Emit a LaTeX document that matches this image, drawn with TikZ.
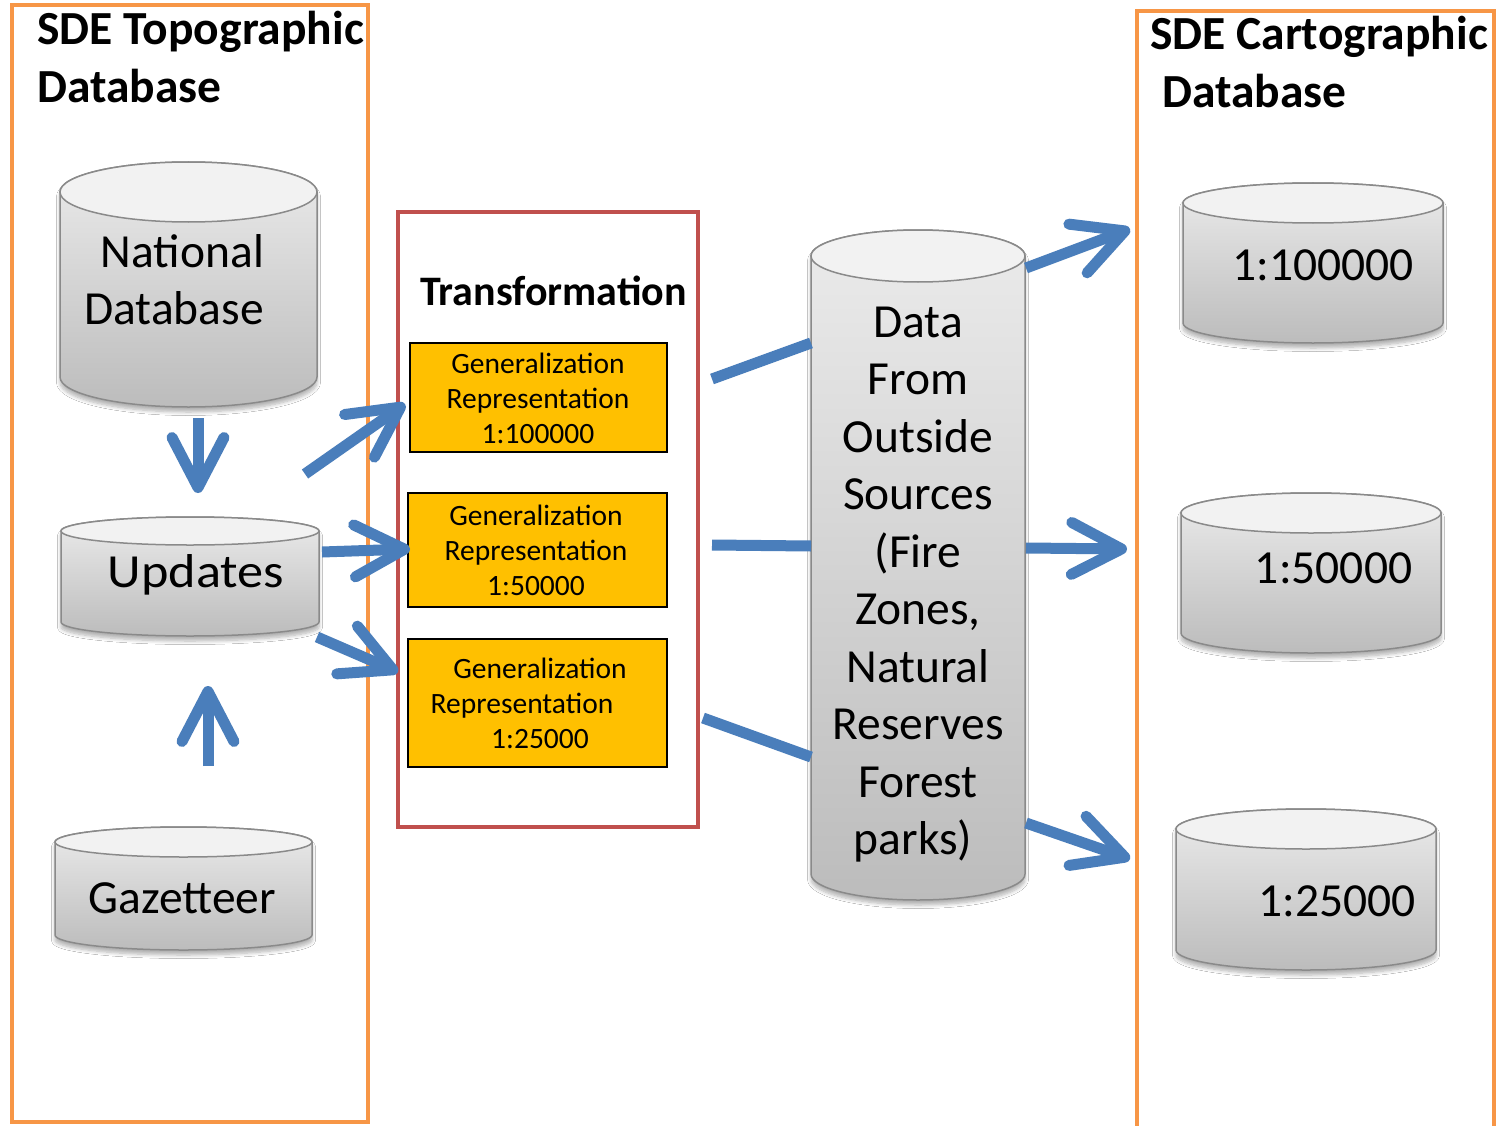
\documentclass[tikz,border=0pt]{standalone}
\usepackage{fontspec}
\usepackage{graphicx}
\setmainfont{Carlito}
\usetikzlibrary{arrows.meta,shadows.blur}
\definecolor{boxorange}{HTML}{F79646}
\definecolor{boxred}{HTML}{C0504D}
\definecolor{flowblue}{HTML}{4A7EBB}
\definecolor{genyellow}{HTML}{FFC000}
\definecolor{cylTop}{HTML}{F2F2F2}
\definecolor{cylA}{HTML}{EBEBEB}
\definecolor{cylB}{HTML}{BCBCBC}
\definecolor{cylLine}{HTML}{8A8A8A}

\newcommand\ml[1]{\begin{tabular}[t]{@{}c@{}}#1\end{tabular}}
\newcommand\mll[1]{\begin{tabular}[t]{@{}l@{}}#1\end{tabular}}

\newcommand\DBcyl[6]{%
 \pgfmathsetmacro\cylcx{(#2+#3)/2}%
 \pgfmathsetmacro\cylrx{(#3-#2)/2}%
 \pgfmathsetmacro\cylcy{(#4+#5)/2}%
 \shade[top color=cylA, bottom color=cylB, draw=cylLine, line width=1.5pt,
   blur shadow={shadow xshift=0pt, shadow yshift=-5pt, shadow opacity=30, shadow blur radius=3.5pt, shadow blur steps=7}]
   (#2,#4) -- (#2,#5) arc[start angle=180, end angle=0, x radius=\cylrx, y radius=#6]
   -- (#3,#4) arc[start angle=0, end angle=-180, x radius=\cylrx, y radius=#6] -- cycle;
 \filldraw[fill=cylTop, draw=cylLine, line width=1.5pt] (\cylcx,#4) ellipse[x radius=\cylrx, y radius=#6];
 \node[inner sep=0pt, minimum width={(#3-#2)*1pt}, minimum height={(#5-#4)*1pt}] (#1) at (\cylcx,\cylcy) {};
}

\tikzset{
  title/.style={font=\fontsize{47.5}{57.5}\selectfont\bfseries, inner sep=0pt},
  transtitle/.style={font=\fontsize{42}{50}\selectfont\bfseries, inner sep=0pt},
  cyltext/.style={font=\fontsize{47.5}{57.5}\selectfont, inner sep=0pt},
  gentext/.style={font=\fontsize{29.5}{35}\selectfont, inner sep=0pt},
  genbox/.style={draw=black, line width=1.5pt, fill=genyellow, inner sep=0pt},
  frameorange/.style={draw=boxorange, line width=4pt},
  framered/.style={draw=boxred, line width=4pt},
  flow/.style={draw=flowblue, line width=11pt, -{Straight Barb[length=50pt, width=52pt, round]}},
  link/.style={draw=flowblue, line width=11pt},
}

\begin{document}
\begin{tikzpicture}[x=1pt, y=-1pt]
\useasboundingbox (0,0) rectangle (1498,1126);
\fill[white] (0,0) rectangle (1498,1126);

% frames
\draw[frameorange] (12,5) rectangle (368,1122);
\draw[frameorange] (1137,1130) -- (1137,11) -- (1494,11) -- (1494,1130);
\draw[framered] (398,212) rectangle (698,827);

% titles
\node[title, anchor=base west] (ttopo) at (37,45) {\mll{SDE Topographic\\Database}};
\node[title, anchor=base west] (tcarto) at (1150,50) {\mll{SDE Cartographic\\\hspace*{12pt}Database}};
\node[transtitle, anchor=base] (ttrans) at (553.5,305) {Transformation};

% cylinders
\DBcyl{natdb}{60}{317}{192}{377}{30}
\DBcyl{upd}{61}{319}{531}{622}{14}
\DBcyl{gaz}{55}{312}{842}{935}{15}
\DBcyl{outside}{811}{1025}{256}{874}{26}
\DBcyl{c100}{1183}{1443}{203}{323}{20}
\DBcyl{c50}{1181}{1441}{513}{633}{20}
\DBcyl{c25}{1176}{1436}{829}{950}{20}

\node[cyltext, anchor=base] (natdbt) at (182.5,267) {\ml{National\\Database\hspace*{17pt}}};
\node[cyltext, anchor=base] (updt) at (196,587) {\scalebox{1.1}[1]{Updates}};
\node[cyltext, anchor=base] (gazt) at (182.5,913) {Gazetteer};
\node[cyltext, anchor=base] (outsidet) at (918,337) {\ml{Data\\From\\Outside\\Sources\\(Fire\\Zones,\\Natural\\Reserves\\Forest\\parks)\hspace*{10pt}}};
\node[cyltext, anchor=base] (c100t) at (1323,280) {1:100000};
\node[cyltext, anchor=base] (c50t) at (1333.5,583) {1:50000};
\node[cyltext, anchor=base] (c25t) at (1337,916) {1:25000};

% generalization boxes
\node[genbox, minimum width=257pt, minimum height=109pt] (g1) at (538.5,397.5) {};
\node[genbox, minimum width=259pt, minimum height=114pt] (g2) at (537.5,550) {};
\node[genbox, minimum width=259pt, minimum height=128pt] (g3) at (537.5,703) {};
\node[gentext, anchor=base] (g1t) at (538,373) {\ml{Generalization\\Representation\\1:100000}};
\node[gentext, anchor=base] (g2t) at (536,525) {\ml{Generalization\\Representation\\1:50000}};
\node[gentext, anchor=base] (g3t) at (540,678) {\ml{Generalization\\Representation\hspace*{36pt}\\1:25000}};

% connector end points
\coordinate (a1s) at (198,418); \coordinate (a1e) at (198,493);
\coordinate (a2s) at (208,766); \coordinate (a2e) at (208,686);
\coordinate (a3s) at (305,474); \coordinate (a3e) at (405,404);
\coordinate (a4s) at (322,552); \coordinate (a4e) at (410,549);
\coordinate (a5s) at (317,637); \coordinate (a5e) at (398,672);
\coordinate (l1s) at (712,379); \coordinate (l1e) at (811,343);
\coordinate (l2s) at (712,545); \coordinate (l2e) at (811,546);
\coordinate (l3s) at (703,718); \coordinate (l3e) at (811,757);
\coordinate (a9s) at (1026,268); \coordinate (a9e) at (1130,229);
\coordinate (a10s) at (1026,548); \coordinate (a10e) at (1127,549);
\coordinate (a11s) at (1026,823); \coordinate (a11e) at (1130,859);

\draw[flow] (a1s) -- (a1e);
\draw[flow] (a2s) -- (a2e);
\draw[flow] (a3s) -- (a3e);
\draw[flow] (a4s) -- (a4e);
\draw[flow] (a5s) -- (a5e);
\draw[link] (l1s) -- (l1e);
\draw[link] (l2s) -- (l2e);
\draw[link] (l3s) -- (l3e);
\draw[flow] (a9s) -- (a9e);
\draw[flow] (a10s) -- (a10e);
\draw[flow] (a11s) -- (a11e);
\end{tikzpicture}
\end{document}
